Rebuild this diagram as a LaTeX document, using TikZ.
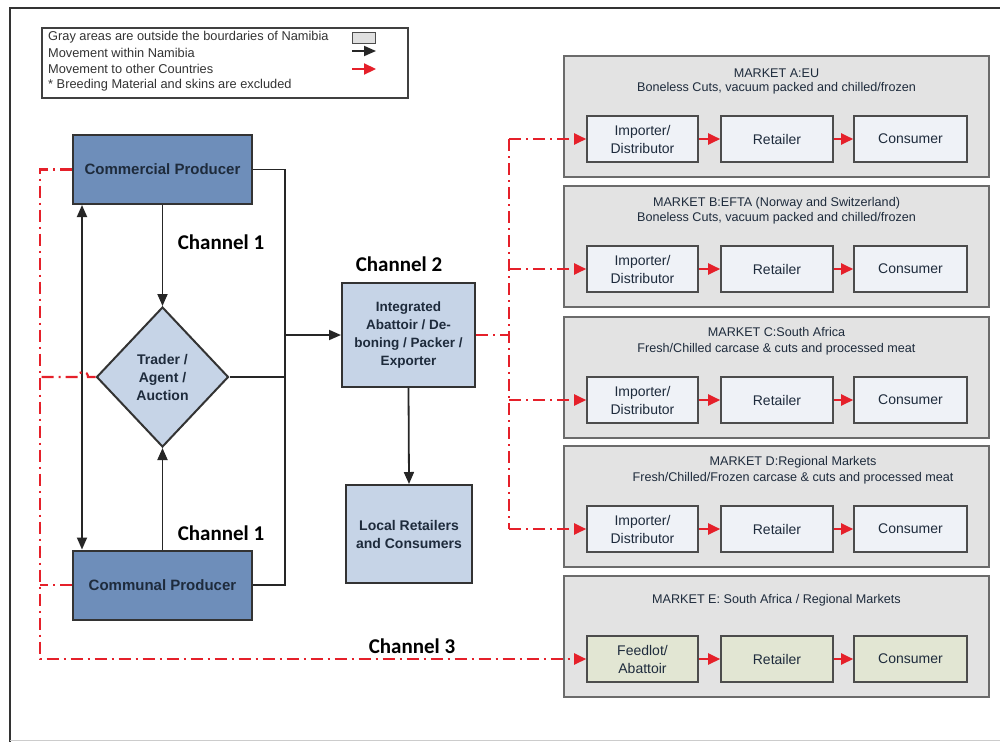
\documentclass[tikz,border=0pt]{standalone}
\usepackage{fontspec}
\setmainfont{Liberation Sans}
\newfontfamily\chanfont{Carlito}
\usetikzlibrary{shapes.geometric,arrows.meta}
\definecolor{prodblue}{HTML}{6E8EBA}
\definecolor{lightblue}{HTML}{C6D4E7}
\definecolor{mkfill}{HTML}{E3E3E3}
\definecolor{mkborder}{HTML}{6B6B6B}
\definecolor{innerfill}{HTML}{EFF2F7}
\definecolor{efill}{HTML}{E2E6D3}
\definecolor{redc}{HTML}{E5202A}
\definecolor{textdark}{HTML}{1E2B3C}
\newcommand{\drawmarket}[8]{%
  \node[market] (#1) at (776.5,#2+60.5) {};
  \node[mtitle] (#1t) at (#8,#2+#7) {#3};
  \node[mtitle] (#1s) at (#8,#2+32) {#4};
  \node[inner, fill=#5, minimum width=111pt] (#1i) at (642.5,#2+83) {#6};
  \node[inner, fill=#5, minimum width=112pt] (#1r) at (777,#2+83) {Retailer};
  \node[inner, fill=#5, minimum width=113pt] (#1c) at (910.5,#2+83) {Consumer};
  \draw[redsolid] (#1i) -- (#1r);
  \draw[redsolid] (#1r) -- (#1c);
}
\begin{document}
\begin{tikzpicture}[x=1pt,y=-1pt,
  prod/.style={draw=black!80, line width=2pt, fill=prodblue, minimum width=179pt, minimum height=69pt,
    font=\fontsize{15}{18}\selectfont\bfseries, text=textdark},
  lightbox/.style={draw=black!80, line width=2pt, fill=lightblue, align=center,
    font=\fontsize{13.5}{17.7}\selectfont\bfseries, text=textdark, inner sep=0pt},
  market/.style={draw=mkborder, line width=1.6pt, fill=mkfill, minimum width=425pt, minimum height=121pt},
  mtitle/.style={font=\fontsize{12.6}{15}\selectfont, text=textdark, inner sep=0pt},
  inner/.style={draw=black!70, line width=1.6pt, minimum height=46pt, align=center,
    font=\fontsize{14}{18}\selectfont, text=textdark, inner sep=0pt},
  blk/.style={line width=1.8pt, draw=black!85},
  blkarrow/.style={blk, -{Triangle[length=12pt,width=10pt]}},
  redline/.style={draw=redc, line width=2.2pt, dash pattern=on 12pt off 5pt on 2pt off 5pt},
  redarrow/.style={redline, -{Triangle[length=12pt,width=11pt]}},
  redsolid/.style={draw=redc, line width=2.2pt, -{Triangle[length=12pt,width=11pt]}},
  chan/.style={font=\chanfont\fontsize{21}{24}\selectfont\bfseries, inner sep=0pt},
  legtext/.style={anchor=west, font=\fontsize{12.8}{15}\selectfont, text=black!80, inner sep=0pt}
]
\useasboundingbox (0,0) rectangle (1000,742);
% frame
\draw[line width=2pt, black!80] (1000,8) -- (10,8) -- (10,742);
\draw[line width=1pt, black!20] (10,740) -- (1000,740);
% legend
\node[draw=black!75, line width=1.3pt, fill=white, minimum width=366pt, minimum height=70pt] (leg) at (225,63) {};
\node[legtext] (l1) at (48,37) {Gray areas are outside the bourdaries of Namibia};
\node[legtext] (l2) at (48,53) {Movement within Namibia};
\node[legtext] (l3) at (48,69) {Movement to other Countries};
\node[legtext] (l4) at (48,85) {* Breeding Material and skins are excluded};
\node[draw=black!70, line width=1.2pt, fill=black!12, minimum width=23pt, minimum height=11pt, inner sep=0pt] (legbox) at (364,38) {};
\coordinate (la1) at (352,51); \coordinate (la2) at (376,51);
\draw[blkarrow] (la1) -- (la2);
\coordinate (lr1) at (352,69); \coordinate (lr2) at (376,69);
\draw[redsolid] (lr1) -- (lr2);
% producers
\node[prod] (comm) at (162.5,169.5) {Commercial Producer};
\node[prod] (communal) at (162.5,585) {Communal Producer};
\node[diamond, draw=black!80, line width=2pt, fill=lightblue, minimum width=132pt, minimum height=140pt,
  inner sep=0pt, align=center, font=\fontsize{14}{18}\selectfont\bfseries, text=textdark] (dia) at (162.5,377) {Trader /\\Agent /\\Auction};
\node[lightbox, minimum width=133pt, minimum height=104pt] (integ) at (408.5,335) {Integrated\\Abattoir / De-\\boning / Packer /\\Exporter};
\node[lightbox, minimum width=126pt, minimum height=98pt, font=\fontsize{14}{18}\selectfont\bfseries] (local) at (409,534) {Local Retailers\\and Consumers};
% channel labels
\node[chan] (ch1a) at (221,242) {Channel 1};
\node[chan] (ch1b) at (221,533) {Channel 1};
\node[chan] (ch2) at (399,264) {Channel 2};
\node[chan] (ch3) at (412,646) {Channel 3};
% markets
\drawmarket{mA}{56}{MARKET A:EU}{Boneless Cuts, vacuum packed and chilled/frozen}{innerfill}{Importer/\\Distributor}{17}{776.5}
\drawmarket{mB}{186}{MARKET B:EFTA (Norway and Switzerland)}{Boneless Cuts, vacuum packed and chilled/frozen}{innerfill}{Importer/\\Distributor}{17}{776.5}
\drawmarket{mC}{317}{MARKET C:South Africa}{Fresh/Chilled carcase \& cuts and processed meat}{innerfill}{Importer/\\Distributor}{15}{776.5}
\drawmarket{mD}{446}{MARKET D:Regional Markets}{Fresh/Chilled/Frozen carcase \& cuts and processed meat}{innerfill}{Importer/\\Distributor}{16}{793}
\drawmarket{mE}{576}{MARKET E: South Africa / Regional Markets}{}{efill}{Feedlot/\\Abattoir}{24}{776.5}
% black connectors
\draw[blkarrow] (comm.south) -- (dia.north);
\draw[blkarrow] (communal.north) -- (dia.south);
\draw[blk, {Triangle[length=12pt,width=10pt]}-{Triangle[length=12pt,width=10pt]}] ([xshift=10pt]comm.south west) -- ([xshift=10pt]communal.north west);
\draw[blk] (comm.east) -- (285,0 |- comm.east) -- (285,0 |- communal.east) -- (communal.east);
\draw[blk] (dia.east) -- (285,0 |- dia.east);
\draw[blkarrow] (285,0 |- integ.west) -- (integ.west);
\draw[blkarrow] (integ.south) -- (local.north);
% red export lines
\coordinate (b1) at (509,0 |- mAi.west);
\coordinate (b4) at (509,0 |- mDi.west);
\draw[redline] (integ.east) -- (509,0 |- integ.east);
\draw[redline] (b1) -- (b4);
\draw[redarrow] (b1) -- (mAi.west);
\draw[redarrow] (509,0 |- mBi.west) -- (mBi.west);
\draw[redarrow] (509,0 |- mCi.west) -- (mCi.west);
\draw[redarrow] (b4) -- (mDi.west);
% red left lines
\coordinate (lc) at (40,0 |- mEi.west);
\draw[redarrow] (comm.west) -| (lc) -- (mEi.west);
\draw[redline] (communal.west) -- (40,0 |- communal.west);
\draw[redline] (dia.west) -- (88,377) .. controls (88,370) and (78,370) .. (78,377) -- (40,377);
\end{tikzpicture}
\end{document}
